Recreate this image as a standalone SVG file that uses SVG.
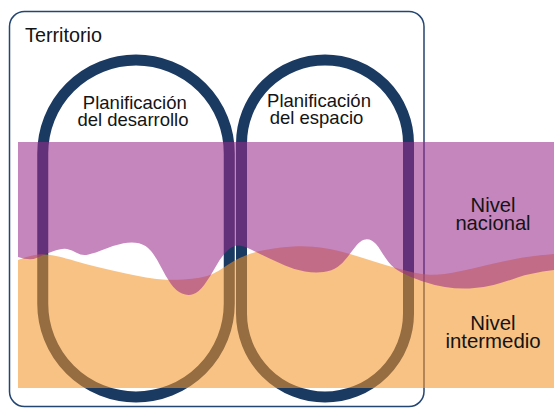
<svg xmlns="http://www.w3.org/2000/svg" width="554" height="408" viewBox="0 0 554 408">
<style>
.lbl{font-family:"Liberation Sans",Arial,sans-serif;fill:#141414;}
.loop{fill:none;stroke:#1b3a62;stroke-width:11;}
.purple{fill:rgb(153,43,139);fill-opacity:0.57;}
.orange{fill:rgb(243,148,38);fill-opacity:0.57;}
</style>
<rect width="554" height="408" fill="#ffffff"/>
<g id="territorio">
<rect x="9.5" y="11.5" width="414.5" height="395" rx="15" ry="15" fill="none" stroke="#244672" stroke-width="1.5"/>
<text class="lbl" x="25" y="41.5" font-size="19.8">Territorio</text>
</g>
<g id="planificacion-desarrollo">
<path class="loop" d="M42.75,153.25 A93.25,93.25 0 0 1 229.25,153.25 V303.75 A93.25,93.25 0 0 1 42.75,303.75 Z"/>
<text class="lbl" font-size="18.5" text-anchor="middle"><tspan x="134.8" y="108.6">Planificación</tspan><tspan x="133" y="125.5">del desarrollo</tspan></text>
</g>
<g id="planificacion-espacio">
<path class="loop" d="M241.5,143.5 A83.5,83.5 0 0 1 408.5,143.5 V313.5 A83.5,83.5 0 0 1 241.5,313.5 Z"/>
<text class="lbl" font-size="18.5" text-anchor="middle"><tspan x="319" y="106.8">Planificación</tspan><tspan x="316.5" y="124.2">del espacio</tspan></text>
</g>
<g id="nivel-intermedio">
<path class="orange" d="M18,260 Q27,256.5 33.5,255.25 Q40,254 46,254.5 Q52,255 58.5,256.5 Q65,258 75,261 Q85,264 97.5,267 Q110,270 122.5,272.75 Q135,275.5 146,277.5 Q157,279.5 166,279.75 Q175,280 183.5,279.5 Q192,279 199.5,277.75 Q207,276.5 212.5,274 Q218,271.5 223,268 Q228,264.5 234,261 Q240,257.5 247.5,254.75 Q255,252 263.5,250.25 Q272,248.5 281,247.5 Q290,246.5 297.5,246.25 Q305,246 313.5,246.75 Q322,247.5 331,249.25 Q340,251 350,254 Q360,257 372.5,261 Q385,265 395,267.75 Q405,270.5 413.5,272.5 Q422,274.5 429.5,274.75 Q437,275 444.5,274 Q452,273 461,271 Q470,269 485,265.5 Q500,262 515,259 Q530,256 554,254 V388 H18 Z"/>
<text class="lbl" font-size="20.4" text-anchor="middle"><tspan x="493" y="330">Nivel</tspan><tspan x="493" y="347.7">intermedio</tspan></text>
</g>
<g id="nivel-nacional">
<path class="purple" d="M18,142 H554 V270 Q530,273 517.5,277.5 Q505,282 493.5,285 Q482,288 469.5,288.5 Q457,289 445,287 Q433,285 421.5,281 Q410,277 401.5,272.5 Q393,268 388.5,262 Q384,256 380,249.5 Q376,243 372,240.75 Q368,238.5 364,239.75 Q360,241 356,246 Q352,251 347.5,257 Q343,263 337.5,267 Q332,271 323.5,272 Q315,273 305,271.5 Q295,270 285,265.5 Q275,261 267.5,257.5 Q260,254 251,249.5 Q242,245 237,245.5 Q232,246 226.5,251.5 Q221,257 215.5,267 Q210,277 204.5,284.5 Q199,292 193.5,294 Q188,296 182,293.5 Q176,291 171,284 Q166,277 161,267 Q156,257 151,251 Q146,245 139,243.25 Q132,241.5 123.5,243.25 Q115,245 105,249 Q95,253 88.5,254.5 Q82,256 77,253 Q72,250 67,249 Q62,248 52.5,251.5 Q43,255 36.5,258 Q30,261 18,257 Z"/>
<text class="lbl" font-size="20.2" text-anchor="middle"><tspan x="493" y="212.3">Nivel</tspan><tspan x="493" y="230">nacional</tspan></text>
</g>
</svg>
